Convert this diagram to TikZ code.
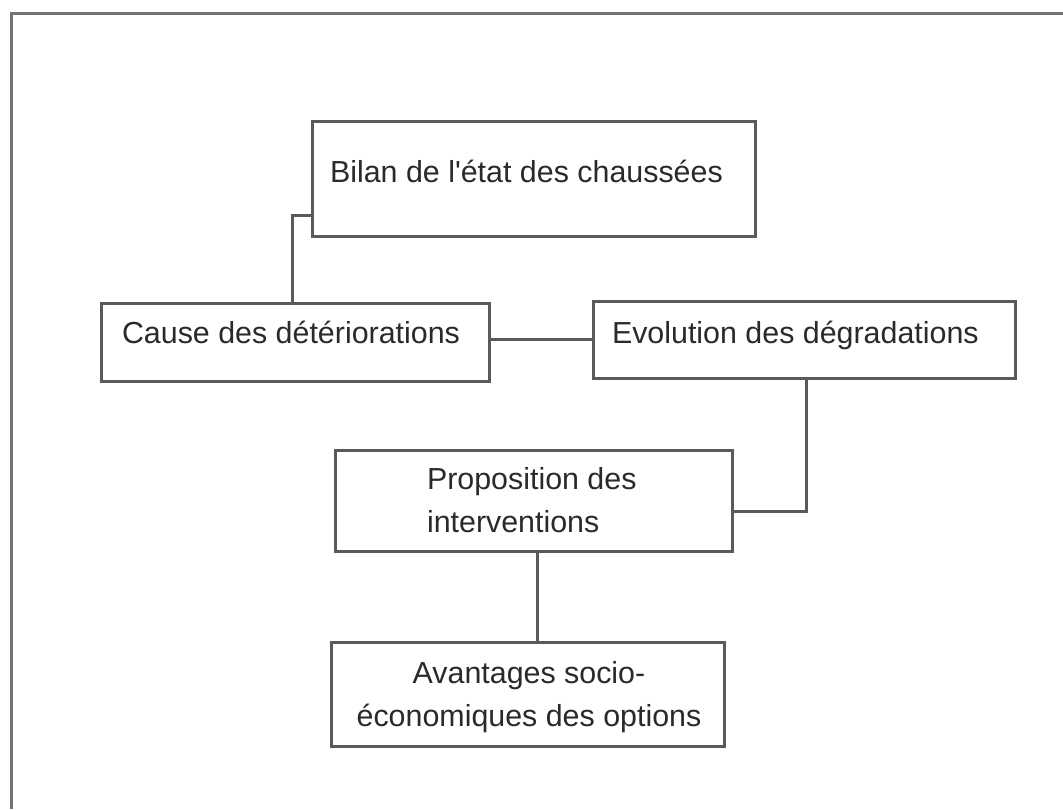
\documentclass[tikz,border=0pt]{standalone}
\usepackage{fontspec}
\setmainfont{Liberation Sans}
\definecolor{boxline}{HTML}{5A5A5A}
\definecolor{frameline}{HTML}{747474}
\definecolor{ink}{HTML}{2A2A2A}
\begin{document}
\begin{tikzpicture}[x=1pt,y=-1pt,
  stagebox/.style={draw=boxline,line width=3pt,rectangle,inner sep=0pt,outer sep=0pt,fill=white},
  label/.style={inner sep=0pt,outer sep=0pt,text=ink,anchor=base west,
    font=\fontsize{30.4pt}{36pt}\selectfont},
  clabel/.style={label,anchor=base},
  link/.style={draw=boxline,line width=3pt}]
\useasboundingbox (0,0) rectangle (1063,809);
\fill[white] (0,0) rectangle (1063,809);
% page frame: only the top and left edges are drawn
\draw[frameline,line width=3pt] (11,809) -- (11,13.5) -- (1063,13.5);

% stages
\node[stagebox,minimum width=443pt,minimum height=115pt] (bilan) at (533.5,178.5) {};
\node[stagebox,minimum width=388pt,minimum height=78pt] (cause) at (295,342) {};
\node[stagebox,minimum width=422pt,minimum height=77pt] (evol) at (804,339.5) {};
\node[stagebox,minimum width=397pt,minimum height=101pt] (prop) at (533.5,500.5) {};
\node[stagebox,minimum width=393pt,minimum height=104pt] (ava) at (527.5,694) {};

% texts
\node[label] (tbilan) at (330,182) {Bilan de l\textquotesingle état des chaussées};
\node[label] (tcause) at (122,343) {Cause des détériorations};
\node[label] (tevol) at (612,343) {Evolution des dégradations};
\node[label] (tprop1) at (427,489) {Proposition des};
\node[label] (tprop2) at (427,532) {interventions};
\node[clabel] (tava1) at (529,683) {Avantages socio-};
\node[clabel] (tava2) at (529,726) {économiques des options};

% connectors
\draw[link] ([yshift=21pt]bilan.south west) -| ([xshift=191pt]cause.north west);
\draw[link] (evol.west -| cause.east) -- (evol.west);
\draw[link] ([xshift=213pt]evol.south west) |- ([yshift=40pt]prop.south east);
\draw[link] ([xshift=202pt]prop.south west) -- ([xshift=202pt]prop.south west |- ava.north);
\end{tikzpicture}
\end{document}
